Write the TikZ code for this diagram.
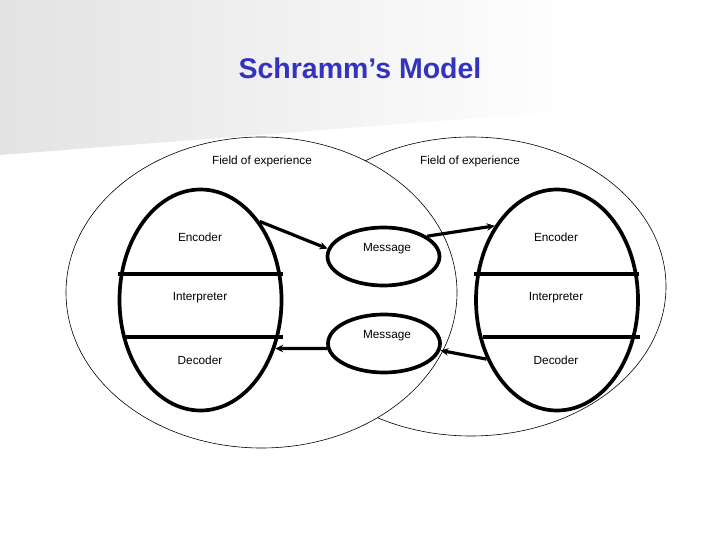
\documentclass[tikz,border=0pt]{standalone}
\usepackage{fontspec}
\setmainfont{Liberation Sans}
\usetikzlibrary{shapes.geometric,arrows.meta}
\definecolor{titleblue}{RGB}{51,51,190}
\begin{document}
\begin{tikzpicture}[x=1pt,y=-1pt,
  field/.style={ellipse,draw=black,line width=0.6pt,fill=white,inner sep=0pt},
  person/.style={ellipse,draw=black,line width=3.7pt,inner sep=0pt,minimum width=162pt,minimum height=221pt},
  msg/.style={ellipse,draw=black,line width=3.7pt,inner sep=0pt,minimum width=112pt,minimum height=58pt},
  lbl/.style={font=\fontsize{11.8}{13}\selectfont,inner sep=0pt},
  chord/.style={line width=3.7pt},
  conn/.style={line width=3.2pt,-{Stealth[length=8pt,width=7.5pt]}}]
\useasboundingbox (0,0) rectangle (720,540);
\fill[white] (0,0) rectangle (720,540);
\shade[left color=black!11,right color=white] (0,0) -- (580,0) -- (580,110) -- (0,155) -- cycle;
\node[font=\bfseries\fontsize{28.5}{31}\selectfont,text=titleblue,inner sep=0pt] (title) at (360,68) {Schramm’s Model};
% fields of experience
\node[field,minimum width=390pt,minimum height=299pt] (fieldR) at (471,286.5) {};
\node[field,minimum width=391pt,minimum height=311pt] (fieldL) at (261.5,292.5) {};
\node[lbl] (feL) at (262,161) {Field of experience};
\node[lbl] (feR) at (470,161) {Field of experience};
% persons
\node[person] (inL) at (200.5,300) {};
\node[person] (inR) at (557,300) {};
\draw[chord] (118,274) -- (283,274);
\draw[chord] (126,337) -- (283,337);
\draw[chord] (474,274) -- (639,274);
\draw[chord] (483,337) -- (640,337);
\node[lbl] (encL) at (200,237) {Encoder};
\node[lbl] (intL) at (200,298) {Interpreter};
\node[lbl] (decL) at (200,360) {Decoder};
\node[lbl] (encR) at (556,237) {Encoder};
\node[lbl] (intR) at (556,298) {Interpreter};
\node[lbl] (decR) at (556,360) {Decoder};
% messages
\node[msg] (m1) at (383.5,256.5) {};
\node[msg] (m2) at (384,343.5) {};
\node[lbl] (m1t) at (387,249) {Message};
\node[lbl] (m2t) at (387,336) {Message};
% connectors
\draw[conn] (inL.53) -- (m1.172);
\draw[conn] (m1.25) -- (inR.130);
\draw[conn] (inR.220) -- (m2.353);
\draw[conn] (m2.185) -- (inL.327);
\end{tikzpicture}
\end{document}
